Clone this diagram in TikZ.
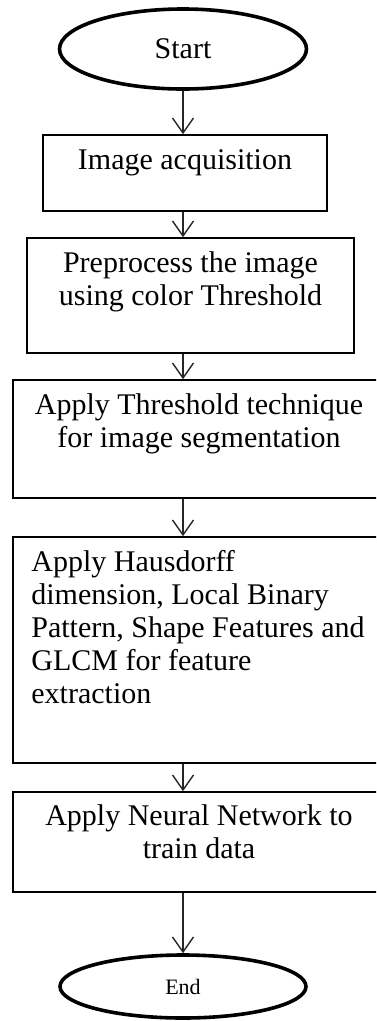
\documentclass[tikz,border=0pt]{standalone}
\usepackage{fontspec}
\setmainfont{Liberation Serif}
\usetikzlibrary{arrows.meta,positioning,shapes.geometric}
\tikzset{
	procbox/.style={draw=black, line width=1.6pt, rectangle, inner sep=0pt},
	terminal/.style={draw=black, line width=3.6pt, ellipse, inner sep=0pt},
	boxtext/.style={inner sep=0pt, font=\fontsize{30}{33}\selectfont, align=center},
	flow/.style={draw=black!85, line width=1.4pt, -{Straight Barb[length=15pt,width=21pt]}}
}

\begin{document}
\begin{tikzpicture}[x=1pt, y=-1pt]
		%%%%% START %%%%%
		
		\useasboundingbox (0,0) rectangle (376,1021);
		\clip (0,0) rectangle (376,1021);
		
		\node[terminal, minimum width=247pt, minimum height=80pt, font=\fontsize{30}{33}\selectfont] (start) at (183,49) {Start};
		
		\node[procbox, minimum width=284pt, minimum height=76pt] (acq) at (185,173) {};
		\node[boxtext, below=15pt of acq.north] (acqtxt) {Image acquisition};
		
		\node[procbox, minimum width=327pt, minimum height=115pt] (pre) at (190.5,295.5) {};
		\node[boxtext, below=14pt of pre.north] (pretxt) {Preprocess the image\\using color Threshold};
		
		\node[procbox, minimum width=372pt, minimum height=118pt] (seg) at (199,439) {};
		\node[boxtext, below=14pt of seg.north] (segtxt) {Apply Threshold technique\\for image segmentation};
		
		\node[procbox, minimum width=372pt, minimum height=226pt] (feat) at (199,650) {};
		\node[boxtext, align=left, below right=14pt and 19pt of feat.north west] (feattxt) {Apply Hausdorff\\dimension, Local Binary\\Pattern, Shape Features and\\GLCM for feature\\extraction};
		
		\node[procbox, minimum width=372pt, minimum height=100pt] (nn) at (199,842) {};
		\node[boxtext, below=13pt of nn.north] (nntxt) {Apply Neural Network to\\train data};
		
		\node[terminal, minimum width=246pt, minimum height=63pt, font=\fontsize{22}{24}\selectfont] (finish) at (183,986.5) {End};
		
		\draw[flow] (start.south) -- (start.south |- acq.north);
		\draw[flow] (acq.south -| start) -- (pre.north -| start);
		\draw[flow] (pre.south -| start) -- (seg.north -| start);
		\draw[flow] (seg.south -| start) -- (feat.north -| start);
		\draw[flow] (feat.south -| start) -- (nn.north -| start);
		\draw[flow] (nn.south -| start) -- (finish.north);
		
		%%%%% END %%%%%
\end{tikzpicture}
\end{document}
